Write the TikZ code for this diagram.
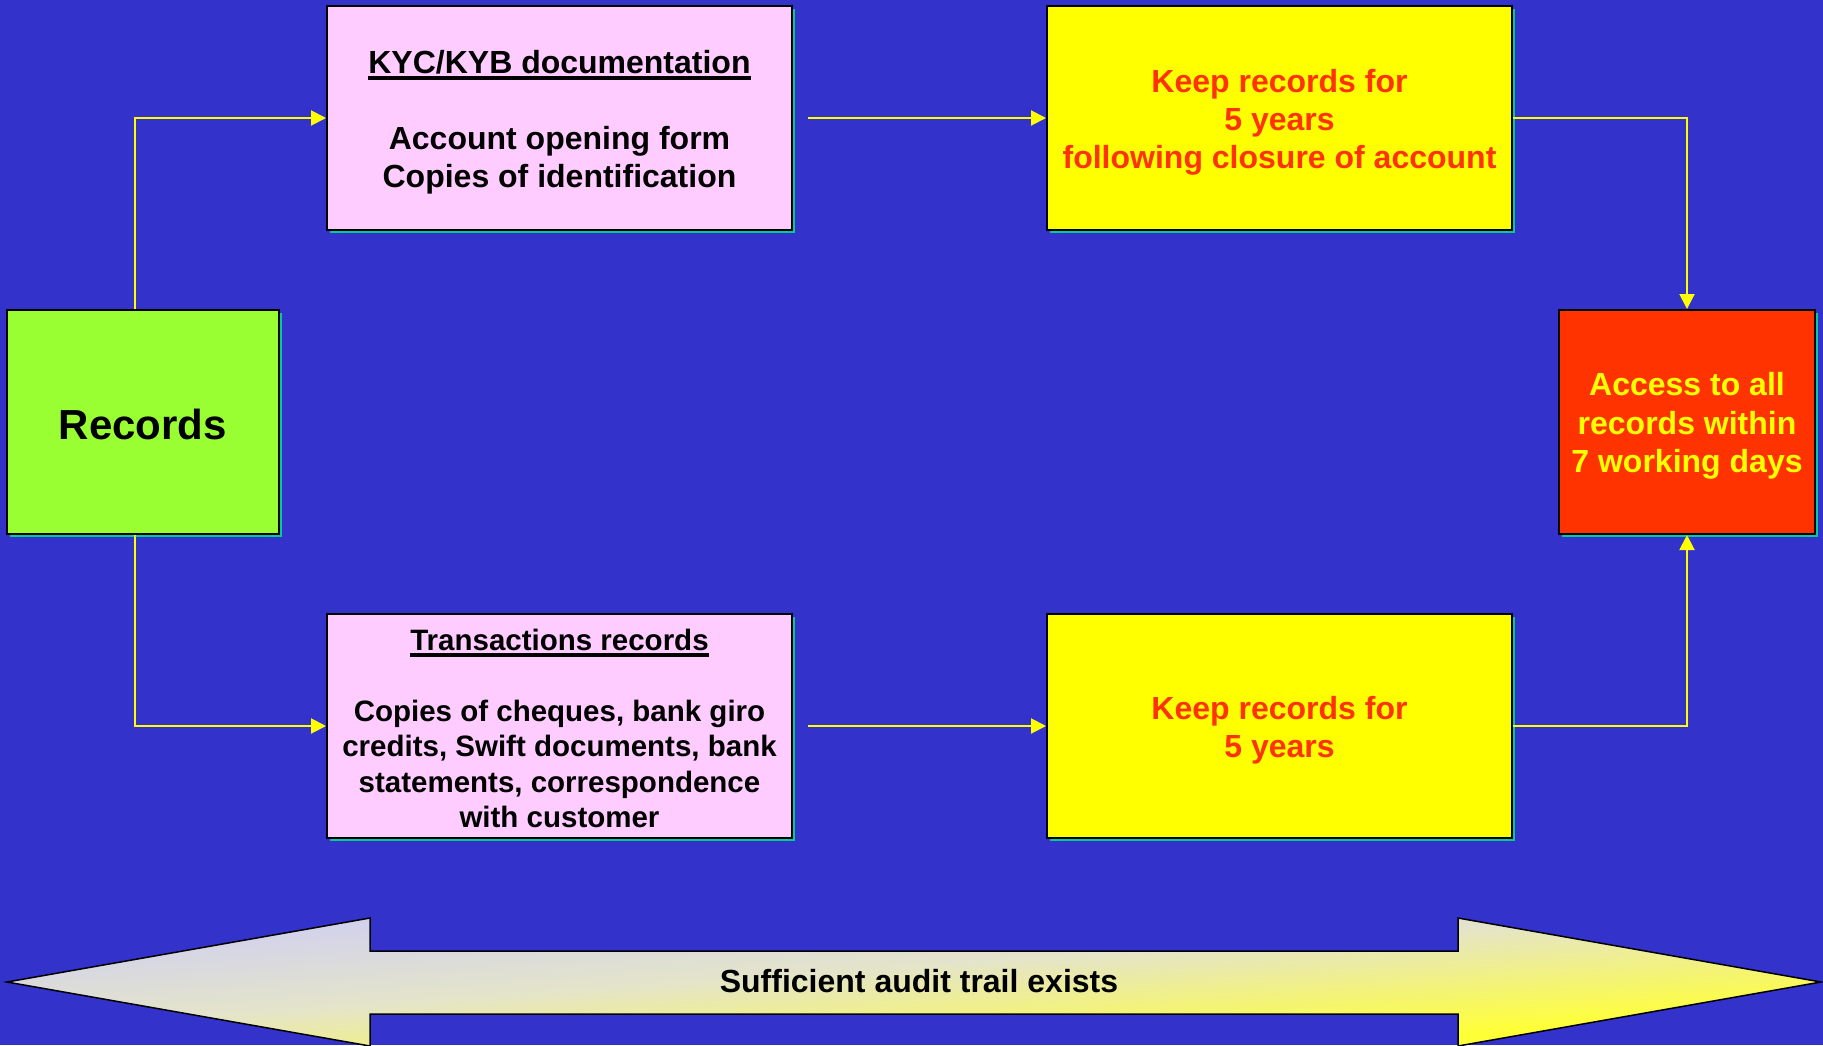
\documentclass[tikz,border=0pt]{standalone}
\usepackage{fontspec}
\setmainfont{Liberation Sans}
\usetikzlibrary{arrows.meta,shadows}

\definecolor{bgblue}{RGB}{51,51,204}
\definecolor{pinkfill}{RGB}{255,204,255}
\definecolor{greenfill}{RGB}{153,255,51}
\definecolor{yellowfill}{RGB}{255,255,0}
\definecolor{redfill}{RGB}{255,51,0}
\definecolor{shadowteal}{RGB}{0,204,153}
\definecolor{trailtop}{RGB}{205,205,246}
\definecolor{trailmid}{RGB}{228,228,202}
\definecolor{trailbot}{RGB}{255,255,55}

% underlined heading with a thick rule
\newcommand\hdline[1]{\setbox0=\hbox{#1}\rlap{\rule[-6.5pt]{\wd0}{3.5pt}}\box0}
% invisible strut that lowers a text block inside its box
\newcommand\lift[1]{\rule{0pt}{#1}}

\tikzset{
  card/.style={draw=black, line width=2pt, rectangle, align=center,
    minimum width=465pt, minimum height=224pt, inner sep=0pt,
    general shadow={fill=shadowteal, shadow xshift=3pt, shadow yshift=-3pt}},
  smallcard/.style={card, minimum width=256pt},
  txt32/.style={font=\fontsize{32}{38}\selectfont\bfseries},
  flow/.style={draw=yellowfill, line width=2pt,
    -{Triangle[width=15pt,length=15pt]}},
}

\def\trailpath{(7,982) -- (370,918) -- (370,951) -- (1458,951) -- (1458,918) -- (1821,982)
    -- (1458,1046) -- (1458,1014) -- (370,1014) -- (370,1046) -- cycle}

\begin{document}
\begin{tikzpicture}[x=1pt, y=-1pt]
  % canvas
  \fill[bgblue] (0,0) rectangle (1823,1045);
  \useasboundingbox (0,0) rectangle (1823,1045);

  % boxes
  \node[smallcard, minimum width=272pt, fill=greenfill,
        font=\fontsize{42}{48}\selectfont\bfseries] (rec) at (143,422) {\lift{35pt}Records};

  \node[card, fill=pinkfill, txt32] (kyc) at (559.5,118)
    {\lift{31.5pt}\hdline{KYC/KYB documentation}\\[38pt]Account opening form\\Copies of identification};

  \node[card, fill=pinkfill, font=\fontsize{29.5}{35.5}\selectfont\bfseries] (trx) at (559.5,726)
    {\lift{26pt}\hdline{Transactions records}\\[35.5pt]Copies of cheques, bank giro\\credits, Swift documents, bank\\statements, correspondence\\with customer};

  \node[card, fill=yellowfill, text=redfill, txt32] (keepa) at (1279.5,118)
    {\lift{31.5pt}Keep records for\\5 years\\following closure of account};

  \node[card, fill=yellowfill, text=redfill, txt32] (keepb) at (1279.5,726)
    {\lift{31.5pt}Keep records for\\5 years};

  \node[smallcard, fill=redfill, text=yellowfill,
        font=\fontsize{32}{38.5}\selectfont\bfseries] (acc) at (1687,422)
    {\lift{31.5pt}Access to all\\records within\\7 working days};

  % connectors
  \draw[flow] ([xshift=-8pt]rec.north) |- (kyc.west);
  \draw[flow] ([xshift=-8pt]rec.south) |- (trx.west);
  \draw[flow] ([xshift=15pt]kyc.east) -- (keepa.west);
  \draw[flow] ([xshift=15pt]trx.east) -- (keepb.west);
  \draw[flow] (keepa.east) -| (acc.north);
  \draw[flow] (keepb.east) -| (acc.south);

  % audit trail double arrow: slanted lavender-to-yellow gradient
  \begin{scope}
    \clip \trailpath;
    \begin{scope}[transform canvas={rotate around={4:(914,982)}}]
      \fill[trailtop] (-300,600) rectangle (2200,861);
      \shade[top color=trailtop, bottom color=trailbot, middle color=trailmid]
        (-300,860) rectangle (2200,1072);
      \fill[trailbot] (-300,1071) rectangle (2200,1400);
    \end{scope}
  \end{scope}
  \draw[line width=1.5pt, line join=miter] \trailpath;
  \node[font=\fontsize{32}{38}\selectfont\bfseries] (trail) at (919,981.5)
    {Sufficient audit trail exists};
\end{tikzpicture}
\end{document}
